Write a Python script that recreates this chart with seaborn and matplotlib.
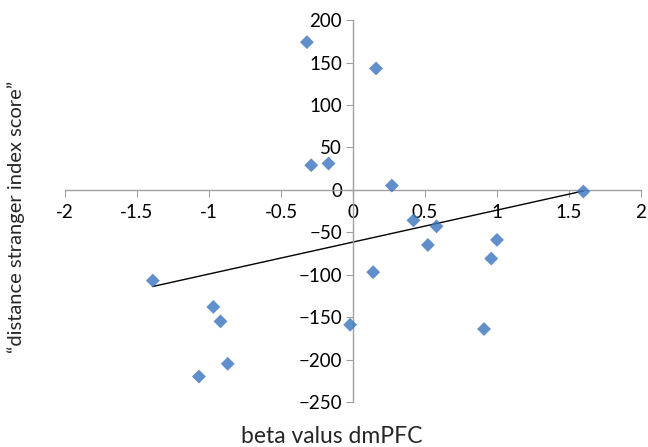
import numpy as np
import pandas as pd
import matplotlib
matplotlib.use("Agg")
import matplotlib.pyplot as plt
import seaborn as sns

# valores
beta = [-0.32, -0.29, -0.17, 0.16, 0.27, 1.60, 0.42, 0.58, 0.52, 1.00,
        0.96, 0.14, -0.02, 0.91, -1.39, -0.97, -0.92, -0.87, -1.07]
score = [174, 29, 31, 143, 5, -2, -36, -43, -65, -59,
         -81, -97, -159, -164, -107, -138, -155, -205, -220]

xticks = [-2, -1.5, -1, -0.5, 0, 0.5, 1, 1.5, 2]
yticks = [-250, -200, -150, -100, -50, 0, 50, 100, 150, 200]

df = pd.DataFrame({"beta": beta, "score": score})

sns.set_style("white")
plt.rcParams["font.family"] = ["Lato", "DejaVu Sans"]

fig = plt.figure(figsize=(6.48, 4.47), dpi=100)
ax = fig.add_axes([0.1003, 0.1007, 0.8889, 0.8543])

sns.regplot(data=df, x="beta", y="score", ax=ax, ci=None, truncate=True,
            marker="D", color="#3a73c0",
            scatter_kws={"s": 50, "edgecolor": "none", "zorder": 3},
            line_kws={"color": "black", "linewidth": 1.0, "zorder": 2})

ax.set_xlim(-2, 2)
ax.set_ylim(-250, 200)
ax.set_xticks(xticks)
ax.set_xticklabels([f"{t:g}" for t in xticks])
ax.set_yticks(yticks)

# eixos cruzando na origem, estilo Excel
ax.spines["left"].set_position(("data", 0))
ax.spines["bottom"].set_position(("data", 0))
ax.spines["top"].set_visible(False)
ax.spines["right"].set_visible(False)
for s in ["left", "bottom"]:
    ax.spines[s].set_color("#a0a0a0")
    ax.spines[s].set_linewidth(1.0)

ax.tick_params(axis="both", direction="out", length=5, color="#a0a0a0",
               labelsize=13.5, labelcolor="black")
ax.tick_params(axis="x", pad=5, bottom=True)
ax.tick_params(axis="y", pad=3, left=True)

ax.set_xlabel("")
ax.set_ylabel("")
fig.text(0.512, 0.008, "beta valus dmPFC", ha="center", va="baseline", fontsize=16.5)
fig.text(0.025, 0.515, "\u201cdistance stranger index score\u201d", ha="center",
         va="center", rotation=90, fontsize=14.5)

fig.savefig("out.png", dpi=100)
